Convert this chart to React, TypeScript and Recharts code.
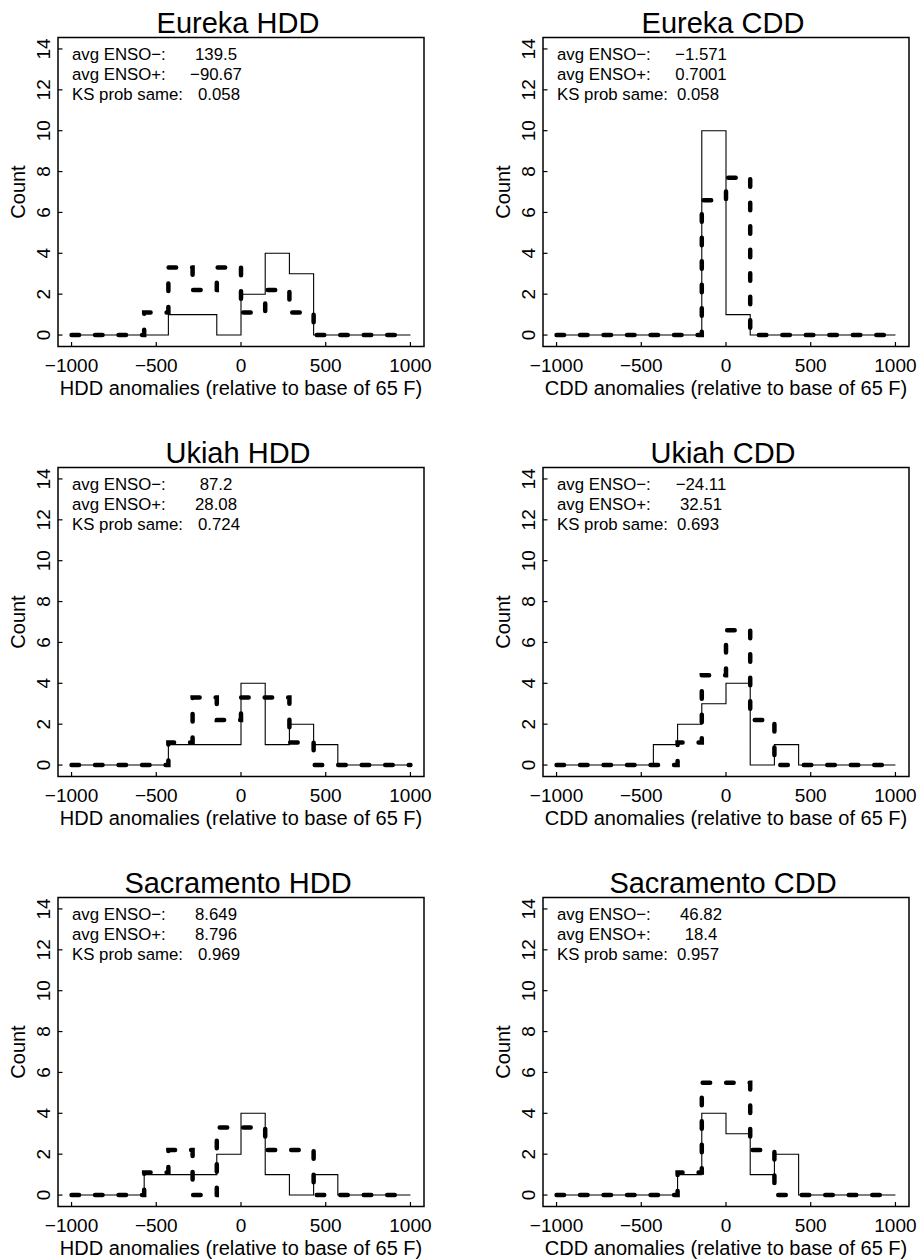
import React from 'react';
import { LineChart, Line, XAxis, YAxis, ReferenceArea } from 'recharts';

const FONT = '"Liberation Sans", Arial, Helvetica, sans-serif';
const MINUS = '\u2212';

// histogram breaks (14 bins from -1000 to 1000)
const BIN_EDGES = [-1000, -857.1, -714.3, -571.4, -428.6, -285.7, -142.9, 0, 142.9, 285.7, 428.6, 571.4, 714.3, 857.1, 1000];
const X_TICKS = [-1000, -500, 0, 500, 1000];
const Y_TICKS = [0, 2, 4, 6, 8, 10, 12, 14];
const X_DOMAIN = [-1080, 1080];
const Y_DOMAIN = [-0.56, 14.56];

// counts per bin: solid = ENSO-, dashed = ENSO+ (scaled)
const EUREKA_HDD_MINUS = [0, 0, 0, 0, 1, 1, 0, 2, 4, 3, 0, 0, 0, 0];
const EUREKA_HDD_PLUS = [0, 0, 0, 1.1, 3.3, 2.2, 3.3, 1.1, 2.2, 1.1, 0, 0, 0, 0];
const EUREKA_CDD_MINUS = [0, 0, 0, 0, 0, 0, 10, 1, 0, 0, 0, 0, 0, 0];
const EUREKA_CDD_PLUS = [0, 0, 0, 0, 0, 0, 6.6, 7.7, 0, 0, 0, 0, 0, 0];
const UKIAH_HDD_MINUS = [0, 0, 0, 0, 1, 1, 1, 4, 1, 2, 1, 0, 0, 0];
const UKIAH_HDD_PLUS = [0, 0, 0, 0, 1.1, 3.3, 2.2, 3.3, 3.3, 1.1, 0, 0, 0, 0];
const UKIAH_CDD_MINUS = [0, 0, 0, 0, 1, 2, 3, 4, 0, 1, 0, 0, 0, 0];
const UKIAH_CDD_PLUS = [0, 0, 0, 0, 0, 1.1, 4.4, 6.6, 2.2, 0, 0, 0, 0, 0];
const SACRAMENTO_HDD_MINUS = [0, 0, 0, 1, 1, 1, 2, 4, 1, 0, 1, 0, 0, 0];
const SACRAMENTO_HDD_PLUS = [0, 0, 0, 1.1, 2.2, 0, 3.3, 3.3, 2.2, 2.2, 0, 0, 0, 0];
const SACRAMENTO_CDD_MINUS = [0, 0, 0, 0, 0, 1, 4, 3, 1, 2, 0, 0, 0, 0];
const SACRAMENTO_CDD_PLUS = [0, 0, 0, 0, 0, 1.1, 5.5, 5.5, 2.2, 0, 0, 0, 0, 0];

const TITLES = ['Eureka HDD', 'Eureka CDD', 'Ukiah HDD', 'Ukiah CDD', 'Sacramento HDD', 'Sacramento CDD'];
const AVG_MINUS = ['139.5', `${MINUS}1.571`, '87.2', `${MINUS}24.11`, '8.649', '46.82'];
const AVG_PLUS = [`${MINUS}90.67`, '0.7001', '28.08', '32.51', '8.796', '18.4'];
const KS_PROB = ['0.058', '0.058', '0.724', '0.693', '0.969', '0.957'];
const MINUS_SERIES = [EUREKA_HDD_MINUS, EUREKA_CDD_MINUS, UKIAH_HDD_MINUS, UKIAH_CDD_MINUS, SACRAMENTO_HDD_MINUS, SACRAMENTO_CDD_MINUS];
const PLUS_SERIES = [EUREKA_HDD_PLUS, EUREKA_CDD_PLUS, UKIAH_HDD_PLUS, UKIAH_CDD_PLUS, SACRAMENTO_HDD_PLUS, SACRAMENTO_CDD_PLUS];

const PANEL_W = 437;
const PANEL_H = 400;
const BOX_LEFT = 58;
const BOX_TOP = 37.5;
const BOX_W = 366;
const BOX_H = 309;

const fmtTick = (v: number) => (v < 0 ? `${MINUS}${Math.abs(v)}` : `${v}`);

const XTick = (props: any) => {
  const { x, y, payload } = props;
  return (
    <g>
      <line x1={x} x2={x} y1={y} y2={y - 4.5} stroke="#000" strokeWidth={1.2} />
      <text x={x} y={y + 25} textAnchor="middle" fontSize={19} fontFamily={FONT} fill="#000">
        {fmtTick(payload.value)}
      </text>
    </g>
  );
};

const YTick = (props: any) => {
  const { x, y, payload } = props;
  return (
    <g>
      <line x1={x} x2={x + 4.5} y1={y} y2={y} stroke="#000" strokeWidth={1.2} />
      <text
        transform={`translate(${x - 8.5},${y}) rotate(-90)`}
        textAnchor="middle"
        fontSize={19}
        fontFamily={FONT}
        fill="#000"
      >
        {payload.value}
      </text>
    </g>
  );
};

function Panel({ index }: { index: number }) {
  const minus = MINUS_SERIES[index];
  const plus = PLUS_SERIES[index];
  const data = BIN_EDGES.map((x, i) => ({
    x,
    minus: minus[Math.min(i, minus.length - 1)],
    plus: plus[Math.min(i, plus.length - 1)],
  }));
  const col = index % 2;
  const row = Math.floor(index / 2);
  const kind = TITLES[index].endsWith('HDD') ? 'HDD' : 'CDD';
  const cx = BOX_LEFT + BOX_W / 2;
  const ksX = BOX_LEFT + (col === 0 ? 140 : 134);

  return (
    <div style={{ position: 'absolute', left: col * 485, top: row * 430, width: PANEL_W, height: PANEL_H }}>
      <LineChart
        width={PANEL_W}
        height={PANEL_H}
        data={data}
        margin={{ top: BOX_TOP, right: PANEL_W - BOX_LEFT - BOX_W, bottom: PANEL_H - BOX_TOP - BOX_H - 30, left: 0 }}
      >
        <XAxis
          dataKey="x"
          type="number"
          domain={X_DOMAIN}
          ticks={X_TICKS}
          interval={0}
          allowDataOverflow
          axisLine={false}
          tickLine={false}
          tickSize={0}
          tickMargin={0}
          height={30}
          tick={<XTick />}
        />
        <YAxis
          type="number"
          domain={Y_DOMAIN}
          ticks={Y_TICKS}
          interval={0}
          allowDataOverflow
          axisLine={false}
          tickLine={false}
          tickSize={0}
          tickMargin={0}
          width={BOX_LEFT}
          tick={<YTick />}
        />
        <ReferenceArea
          x1={X_DOMAIN[0]}
          x2={X_DOMAIN[1]}
          y1={Y_DOMAIN[0]}
          y2={Y_DOMAIN[1]}
          fill="none"
          fillOpacity={0}
          stroke="#000"
          strokeWidth={1.5}
          ifOverflow="visible"
        />
        <Line
          type="stepAfter"
          dataKey="plus"
          stroke="#000"
          strokeWidth={4.5}
          strokeDasharray="7.5 16"
          strokeLinecap="round"
          dot={false}
          isAnimationActive={false}
        />
        <Line
          type="stepAfter"
          dataKey="minus"
          stroke="#000"
          strokeWidth={1.1}
          dot={false}
          isAnimationActive={false}
        />
      </LineChart>
      <svg
        width={PANEL_W}
        height={PANEL_H}
        style={{ position: 'absolute', left: 0, top: 0, pointerEvents: 'none' }}
        fontFamily={FONT}
        fill="#000"
      >
        <text x={cx - 3} y={BOX_TOP - 5} textAnchor="middle" fontSize={29}>
          {TITLES[index]}
        </text>
        <text x={BOX_LEFT + 14} y={BOX_TOP + 22} fontSize={16.8}>{`avg ENSO${MINUS}:`}</text>
        <text x={BOX_LEFT + 158} y={BOX_TOP + 22} fontSize={16.8} textAnchor="middle">
          {AVG_MINUS[index]}
        </text>
        <text x={BOX_LEFT + 14} y={BOX_TOP + 42} fontSize={16.8}>avg ENSO+:</text>
        <text x={BOX_LEFT + 158} y={BOX_TOP + 42} fontSize={16.8} textAnchor="middle">
          {AVG_PLUS[index]}
        </text>
        <text x={BOX_LEFT + 14} y={BOX_TOP + 62} fontSize={16.8}>KS prob same:</text>
        <text x={ksX} y={BOX_TOP + 62} fontSize={16.8}>
          {KS_PROB[index]}
        </text>
        <text
          transform={`translate(${BOX_LEFT - 33},${BOX_TOP + BOX_H / 2}) rotate(-90)`}
          textAnchor="middle"
          fontSize={20}
        >
          Count
        </text>
        <text x={cx} y={BOX_TOP + BOX_H + 48.5} textAnchor="middle" fontSize={20}>
          {`${kind} anomalies (relative to base of 65 F)`}
        </text>
      </svg>
    </div>
  );
}

export default function App() {
  return (
    <div
      style={{
        position: 'absolute',
        left: 0,
        top: 0,
        width: 922,
        height: 1260,
        background: '#fff',
        overflow: 'hidden',
      }}
    >
      {TITLES.map((t, i) => (
        <Panel key={t} index={i} />
      ))}
    </div>
  );
}
